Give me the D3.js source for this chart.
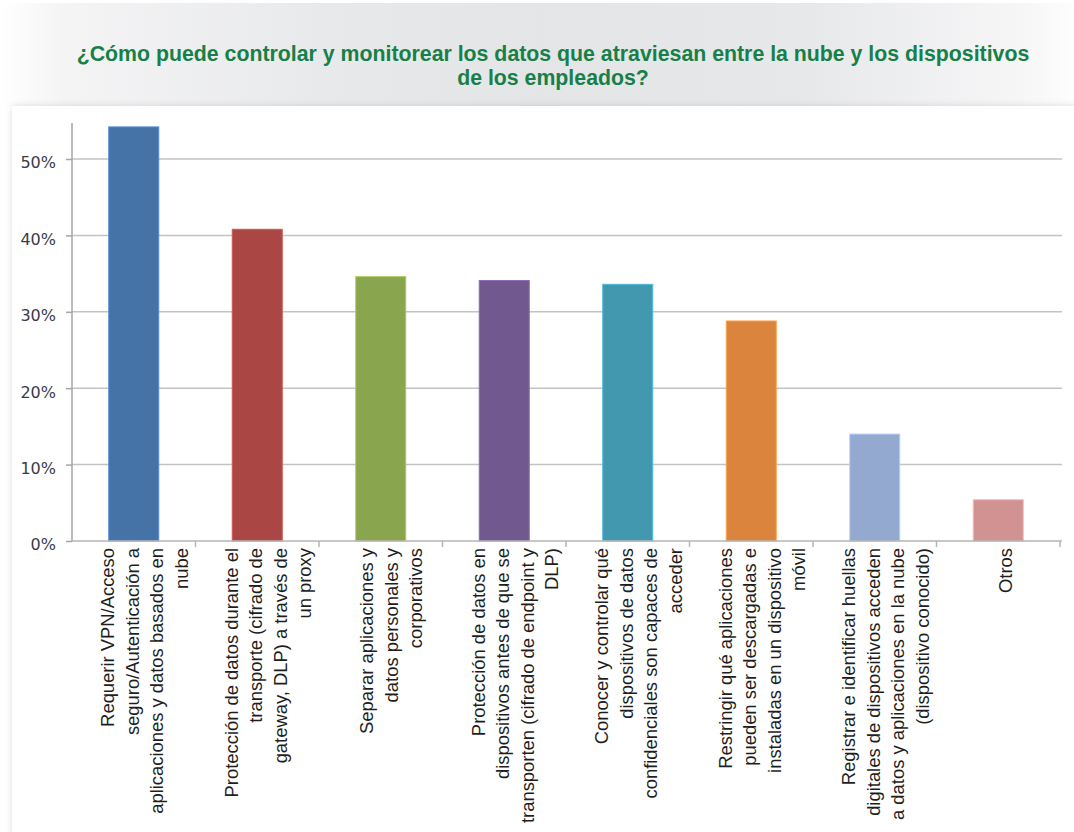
<!DOCTYPE html>
<html>
<head>
<meta charset="utf-8">
<script src="https://cdn.jsdelivr.net/npm/d3@7"></script>
<style>
  html, body { margin: 0; padding: 0; background: #ffffff; }
  svg { display: block; }
</style>
</head>
<body>
<div id="chart"></div>
<script>
const titleLines = [
  "¿Cómo puede controlar y monitorear los datos que atraviesan entre la nube y los dispositivos",
  "de los empleados?"
];
const categories = [
  ["Requerir VPN/Acceso", "seguro/Autenticación a", "aplicaciones y datos basados en", "nube"],
  ["Protección de datos durante el", "transporte (cifrado de", "gateway, DLP) a través de", "un proxy"],
  ["Separar aplicaciones y", "datos personales y", "corporativos"],
  ["Protección de datos en", "dispositivos antes de que se", "transporten (cifrado de endpoint y", "DLP)"],
  ["Conocer y controlar qué", "dispositivos de datos", "confidenciales son capaces de", "acceder"],
  ["Restringir qué aplicaciones", "pueden ser descargadas e", "instaladas en un dispositivo", "móvil"],
  ["Registrar e identificar huellas", "digitales de dispositivos acceden", "a datos y aplicaciones en la nube", "(dispositivo conocido)"],
  ["Otros"]
];
const values = [54.2, 40.8, 34.6, 34.1, 33.6, 28.8, 14.0, 5.4];
const barColors = ["#4572a7", "#aa4643", "#89a54e", "#71588f", "#4198af", "#db843d", "#93a9cf", "#d19392"];
const yTicks = [0, 10, 20, 30, 40, 50];

const W = 1074, H = 832;
const svg = d3.select("#chart").append("svg").attr("width", W).attr("height", H);
const defs = svg.append("defs");

const grad = defs.append("linearGradient").attr("id", "band").attr("x1", "0").attr("x2", "1").attr("y1", "0").attr("y2", "0");
[[0, "#ffffff"], [0.06, "#f4f4f5"], [0.3, "#e8e9eb"], [0.5, "#e4e5e7"], [0.75, "#e7e8ea"], [0.95, "#f6f6f7"], [1, "#fdfdfd"]]
  .forEach(([o, c]) => grad.append("stop").attr("offset", o).attr("stop-color", c));

const shadow = defs.append("filter").attr("id", "shadow").attr("x", "-5%").attr("y", "-5%").attr("width", "110%").attr("height", "110%");
shadow.append("feDropShadow").attr("dx", 0).attr("dy", 0).attr("stdDeviation", 3).attr("flood-color", "#000").attr("flood-opacity", 0.13);

// title band
svg.append("rect").attr("x", 0).attr("y", 3).attr("width", W).attr("height", 104).attr("fill", "url(#band)");
// white panel
svg.append("rect").attr("x", 12).attr("y", 106).attr("width", W + 20).attr("height", H).attr("fill", "#ffffff").attr("filter", "url(#shadow)");

// title
svg.append("g").selectAll("text").data(titleLines).join("text")
  .attr("x", 553).attr("y", (d, i) => 61 + i * 24)
  .attr("text-anchor", "middle")
  .attr("font-family", "'Liberation Sans', Arial, sans-serif")
  .attr("font-weight", "bold").attr("font-size", 21.3)
  .attr("fill", "#178048")
  .text(d => d);

// scales
const x0 = 72, x1 = 1060, yBase = 541;
const pad = 0.595;
const x = d3.scaleBand().domain(d3.range(categories.length)).range([x0, x1])
  .paddingInner(pad).paddingOuter(pad / 2);
const y = d3.scaleLinear().domain([0, 55]).range([yBase, yBase - 55 * 7.64]);

// grid lines
svg.append("g").selectAll("line").data(yTicks.filter(t => t > 0)).join("line")
  .attr("x1", x0).attr("x2", 1062)
  .attr("y1", d => y(d)).attr("y2", d => y(d))
  .attr("stroke", "#c3c3c3").attr("stroke-width", 1.5);

// y axis
const yAxis = svg.append("g").attr("transform", `translate(${x0},0)`)
  .call(d3.axisLeft(y).tickValues(yTicks).tickSize(6).tickPadding(10).tickFormat(d => d + "%"));
yAxis.select(".domain").attr("stroke", "#a6a6a6").attr("stroke-width", 1.5).attr("d", `M0,${y(54.7)}V${yBase}`);
yAxis.selectAll(".tick line").attr("stroke", "#a6a6a6").attr("stroke-width", 1.5);
yAxis.selectAll(".tick text")
  .attr("font-family", "'DejaVu Sans', sans-serif").attr("font-size", 16)
  .attr("fill", "#3b3b4a").attr("dy", "0.55em").attr("x", -16);

// bars
svg.append("g").selectAll("rect").data(values).join("rect")
  .attr("x", (d, i) => x(i)).attr("width", x.bandwidth())
  .attr("y", d => y(d)).attr("height", d => y(0) - y(d))
  .attr("fill", (d, i) => barColors[i])
  .attr("stroke", (d, i) => d3.color(barColors[i]).brighter(0.6))
  .attr("stroke-width", 1);

// x axis baseline and boundary ticks
const bounds = d3.range(categories.length + 1).map(i => x0 + i * x.step());
svg.append("line").attr("x1", x0).attr("x2", 1062).attr("y1", yBase).attr("y2", yBase)
  .attr("stroke", "#b5b5b5").attr("stroke-width", 1.5);
svg.append("g").selectAll("line").data(bounds.slice(1)).join("line")
  .attr("x1", d => d).attr("x2", d => d).attr("y1", yBase).attr("y2", yBase + 6)
  .attr("stroke", "#b5b5b5").attr("stroke-width", 1.5);

// x labels (rotated)
const lineGap = 24.5;
const labelG = svg.append("g");
categories.forEach((lines, i) => {
  const cx = x(i) + x.bandwidth() / 2 + (lines.length > 1 ? 11 : 8);
  const first = cx - (lines.length - 1) * lineGap / 2;
  lines.forEach((ln, j) => {
    const bx = first + j * lineGap + 6;
    labelG.append("text")
      .attr("transform", `translate(${bx},548) rotate(-90)`)
      .attr("text-anchor", "end")
      .attr("font-family", "'Liberation Sans', Arial, sans-serif")
      .attr("font-size", 18.4)
      .attr("fill", "#1e1e1e")
      .text(ln);
  });
});
</script>
</body>
</html>
